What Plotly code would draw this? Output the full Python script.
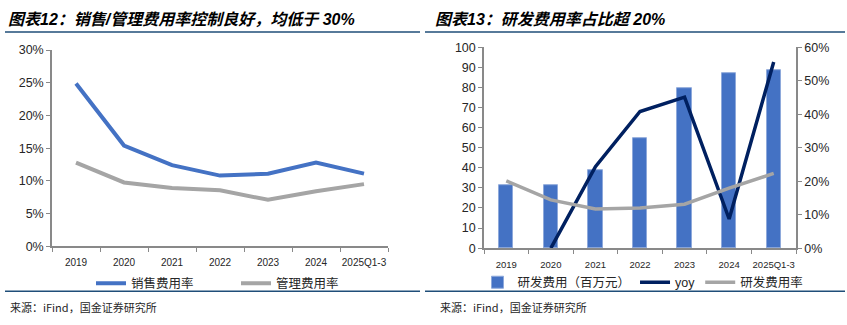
import plotly.graph_objects as go

W, H = 847, 325

years = ["2019", "2020", "2021", "2022", "2023", "2024", "2025Q1-3"]
sales_rate = [0.249, 0.154, 0.124, 0.108, 0.111, 0.128, 0.111]
admin_rate = [0.128, 0.0975, 0.089, 0.0855, 0.071, 0.084, 0.095]

rd_expense = [31.4, 31.4, 39.0, 54.9, 79.8, 87.0, 88.7]
rd_yoy = [None, 0.0, 0.243, 0.408, 0.451, 0.087, 0.556]
rd_rate = [0.201, 0.144, 0.117, 0.120, 0.131, 0.179, 0.223]

title_left = "图表12：销售/管理费用率控制良好，均低于 30%"
title_right = "图表13：研发费用率占比超 20%"
source_text = "来源：iFind，国金证券研究所"

FONT = "Liberation Sans, Arial, Noto Sans CJK SC, sans-serif"
CJK = "Liberation Sans, Noto Sans CJK SC, sans-serif"
TXT = "#262626"
AX = "#898989"
BLUE = "#4472C4"
GRAY = "#A5A5A5"
NAVY = "#002060"
LINE = "#1F4E79"


def px(x):
    return x / W


def py(y):
    return 1 - y / H


fig = go.Figure()

fig.add_trace(go.Scatter(x=years, y=sales_rate, mode="lines", name="销售费用率",
                         line=dict(color=BLUE, width=4), xaxis="x", yaxis="y",
                         legend="legend"))
fig.add_trace(go.Scatter(x=years, y=admin_rate, mode="lines", name="管理费用率",
                         line=dict(color=GRAY, width=4), xaxis="x", yaxis="y",
                         legend="legend"))

fig.add_trace(go.Bar(x=years, y=rd_expense, name="研发费用（百万元）",
                     marker=dict(color=BLUE, line=dict(color="#8EA9DB", width=1)),
                     width=0.32, xaxis="x2", yaxis="y2", legend="legend2"))
fig.add_trace(go.Scatter(x=years, y=rd_yoy, mode="lines", name="yoy",
                         line=dict(color=NAVY, width=3.5), xaxis="x2", yaxis="y3",
                         legend="legend2", connectgaps=False))
fig.add_trace(go.Scatter(x=years, y=rd_rate, mode="lines", name="研发费用率",
                         line=dict(color=GRAY, width=3.5), xaxis="x2", yaxis="y3",
                         legend="legend2"))

xcommon = dict(type="category", showline=True, linecolor=AX, linewidth=1.5,
               ticks="outside", tickcolor=AX, ticklen=4, tickson="boundaries",
               showgrid=False, zeroline=False, range=[-0.5, 6.5], fixedrange=True,
               tickangle=0)

fig.update_layout(
    width=W, height=H,
    margin=dict(l=0, r=0, t=0, b=0),
    paper_bgcolor="white", plot_bgcolor="white",
    font=dict(family=FONT, color=TXT),
    bargap=0,
    xaxis=dict(domain=[px(52), px(388)], anchor="y", ticklabelstandoff=6,
               tickfont=dict(size=10, color=TXT), **xcommon),
    yaxis=dict(domain=[py(250), py(45)], anchor="x", range=[0, 0.30], dtick=0.05,
               tickformat=".0%", showline=True, linecolor=AX, linewidth=1.5,
               ticks="outside", tickcolor=AX, ticklen=4, showgrid=False,
               zeroline=False, tickfont=dict(size=12.5, color=TXT)),
    xaxis2=dict(domain=[px(484), px(796)], anchor="y2", ticklabelstandoff=7,
                tickfont=dict(size=9.5, color=TXT), **xcommon),
    yaxis2=dict(domain=[py(252), py(42)], anchor="x2", range=[0, 100], dtick=10,
                showline=True, linecolor=AX, linewidth=1.5, ticks="outside",
                tickcolor=AX, ticklen=4, showgrid=False, zeroline=False,
                tickfont=dict(size=12.5, color=TXT)),
    yaxis3=dict(overlaying="y2", anchor="x2", side="right", range=[0, 0.6],
                dtick=0.1, tickformat=".0%", showline=True, linecolor=AX,
                linewidth=1.5, ticks="outside", tickcolor=AX, ticklen=4,
                showgrid=False, zeroline=False, tickfont=dict(size=12.5, color=TXT)),
    legend=dict(orientation="h", x=px(236), xanchor="center", y=py(289),
                yanchor="middle", font=dict(family=CJK, size=12.5, color=TXT),
                bgcolor="rgba(0,0,0,0)", itemwidth=30, tracegroupgap=0,
                entrywidth=100),
    legend2=dict(orientation="h", x=px(643), xanchor="center", y=py(288),
                 yanchor="middle", font=dict(family=CJK, size=12.5, color=TXT),
                 bgcolor="rgba(0,0,0,0)", itemwidth=30, tracegroupgap=0),
    showlegend=True,
)

# titles
for txt, x0 in [(title_left, 6), (title_right, 433)]:
    fig.add_annotation(text=f"<b><i>{txt}</i></b>", x=px(x0), y=py(13),
                       xref="paper", yref="paper", xanchor="left", yanchor="middle",
                       showarrow=False,
                       font=dict(family=CJK, size=16, color="#000000"))
# sources
for x0 in (8, 438):
    fig.add_annotation(text=source_text, x=px(x0), y=py(313), xref="paper",
                       yref="paper", xanchor="left", yanchor="middle",
                       showarrow=False,
                       font=dict(family="Noto Sans CJK SC, sans-serif", size=11,
                                 color=TXT))
# separator lines
for (x0, x1) in [(5, 420), (425, 845)]:
    for yy in (26, 297):
        fig.add_shape(type="line", xref="paper", yref="paper",
                      x0=px(x0), x1=px(x1), y0=py(yy), y1=py(yy),
                      line=dict(color=LINE, width=1.5))

fig.write_html("out.html")
